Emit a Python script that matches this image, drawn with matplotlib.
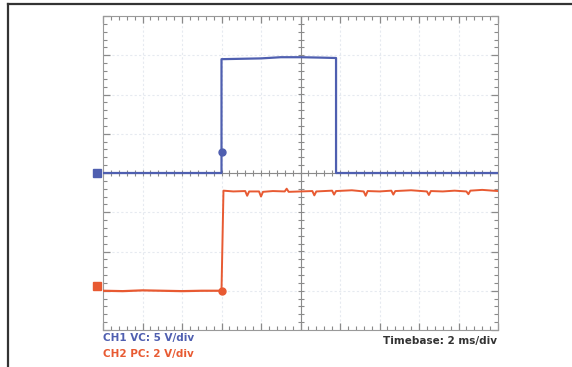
import numpy as np
import matplotlib
matplotlib.use("Agg")
import matplotlib.pyplot as plt
from matplotlib.ticker import MultipleLocator

# scope traces, in divisions (x: time div, y: volts div)
ch1_t = [0.0, 3.0, 3.0, 3.5, 4.0, 4.5, 5.0, 5.5, 5.9, 5.9, 10.0]
ch1_v = [0.0, 0.0, 2.90, 2.91, 2.92, 2.95, 2.95, 2.94, 2.93, 0.0, 0.0]

ch2_low_t = [0.0, 0.5, 1.0, 1.5, 2.0, 2.5, 3.0]
ch2_low_v = [-3.0, -3.01, -2.99, -3.0, -3.01, -3.0, -3.0]
ch2_high_t = [3.0, 3.05, 3.3, 3.6, 3.65, 3.7, 3.95, 4.0, 4.05, 4.3, 4.6, 4.65, 4.7,
              5.0, 5.3, 5.35, 5.4, 5.8, 5.85, 5.9, 6.3, 6.6, 6.65, 6.7, 7.0, 7.3,
              7.35, 7.4, 7.8, 8.2, 8.25, 8.3, 8.6, 8.9, 9.2, 9.25, 9.3, 9.6, 10.0]
ch2_high_v = [-3.0, -0.45, -0.47, -0.46, -0.58, -0.47, -0.47, -0.60, -0.48, -0.46,
              -0.47, -0.40, -0.48, -0.47, -0.46, -0.57, -0.47, -0.45, -0.55, -0.46,
              -0.44, -0.47, -0.58, -0.46, -0.47, -0.45, -0.55, -0.46, -0.44, -0.47,
              -0.56, -0.46, -0.47, -0.45, -0.47, -0.54, -0.45, -0.43, -0.46]

trig_ch1 = (3.0, 0.53)
trig_ch2 = (3.0, -3.0)
ref_ch1 = 0.0
ref_ch2 = -2.88

BLUE = "#4f5fb0"
RED = "#e85a32"

fig = plt.figure(figsize=(5.72, 3.67), dpi=100)

# outer frame (top and left only)
fig.add_artist(plt.Line2D([8 / 572, 1.0], [1 - 4 / 367] * 2, color="#333333", lw=1.6))
fig.add_artist(plt.Line2D([8 / 572] * 2, [0.0, 1 - 4 / 367], color="#333333", lw=1.6))

ax = fig.add_axes([103 / 572, 1 - 330 / 367, 395 / 572, 314 / 367])
ax.set_xlim(0, 10)
ax.set_ylim(-4, 4)

# faint graticule
for x in range(1, 10):
    ax.axvline(x, color="#e6eaf0", lw=0.8, ls=(0, (2, 2)), zorder=0)
for y in range(-3, 4):
    ax.axhline(y, color="#e6eaf0", lw=0.8, ls=(0, (2, 2)), zorder=0)

# center cross with small ticks
ax.axhline(0, color="#8a8a8a", lw=0.8, zorder=1)
ax.axvline(5, color="#8a8a8a", lw=0.8, zorder=1)
xt = np.arange(0, 10.01, 0.2)
yt = np.arange(-4, 4.01, 0.2)
ax.plot(xt, np.zeros_like(xt), ls="none", marker="|", ms=4, mew=0.8, color="#8a8a8a", zorder=1)
ax.plot(np.full_like(yt, 5), yt, ls="none", marker="_", ms=4, mew=0.8, color="#8a8a8a", zorder=1)

# border ticks
ax.xaxis.set_major_locator(MultipleLocator(1))
ax.xaxis.set_minor_locator(MultipleLocator(0.2))
ax.yaxis.set_major_locator(MultipleLocator(1))
ax.yaxis.set_minor_locator(MultipleLocator(0.2))
ax.tick_params(which="both", direction="in", top=True, right=True,
               labelbottom=False, labelleft=False, color="#8a8a8a")
ax.tick_params(which="major", length=5, width=0.9)
ax.tick_params(which="minor", length=3, width=0.8)
for s in ax.spines.values():
    s.set_color("#9a9a9a")
    s.set_linewidth(0.8)

# traces
ax.plot(ch1_t, ch1_v, color=BLUE, lw=1.6, zorder=3)
ax.plot(ch2_low_t, ch2_low_v, color=RED, lw=1.6, zorder=3)
ax.plot(ch2_high_t, ch2_high_v, color=RED, lw=1.4, zorder=3)
ax.plot(*trig_ch1, marker="o", ms=5, color=BLUE, zorder=4)
ax.plot(*trig_ch2, marker="o", ms=5, color=RED, zorder=4)

# channel reference markers on the left edge
ax.plot(-0.15, ref_ch1, marker="s", ms=6, color=BLUE, clip_on=False, zorder=5)
ax.plot(-0.15, ref_ch2, marker="s", ms=6, color=RED, clip_on=False, zorder=5)

# labels under the screen
fig.text(103 / 572, 1 - 338 / 367, "CH1 VC: 5 V/div", color=BLUE, fontsize=7.5,
         fontweight="bold", va="center", ha="left")
fig.text(103 / 572, 1 - 354 / 367, "CH2 PC: 2 V/div", color=RED, fontsize=7.5,
         fontweight="bold", va="center", ha="left")
fig.text(497 / 572, 1 - 341 / 367, "Timebase: 2 ms/div", color="#333333", fontsize=7.5,
         fontweight="bold", va="center", ha="right")

fig.savefig("out.png", dpi=100)
